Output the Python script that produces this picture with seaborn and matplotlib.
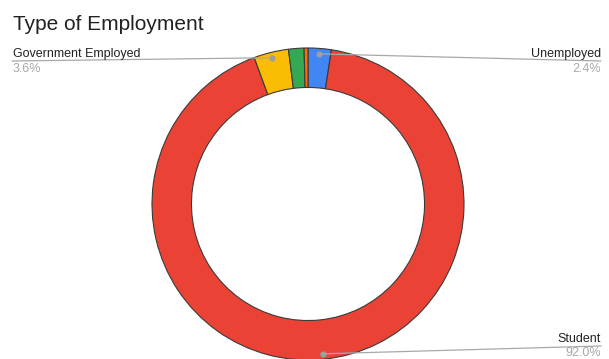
import numpy as np
import matplotlib
matplotlib.use("Agg")
import matplotlib.pyplot as plt
import seaborn as sns

sns.set_theme(style="white")
plt.rcParams['font.family'] = ['Liberation Sans', 'DejaVu Sans']

# Data
categories = ["Unemployed", "Student", "Government Employed", "Other", "Other 2"]
values = [2.4, 92.0, 3.6, 1.6, 0.4]
colors = ["#4285F4", "#EA4335", "#FBBC04", "#34A853", "#FF6D01"]
labeled = ["Unemployed", "Student", "Government Employed"]
pct_labels = {"Unemployed": "2.4%", "Student": "92.0%", "Government Employed": "3.6%"}

W, H = 609, 359
fig = plt.figure(figsize=(W / 100, H / 100), dpi=100)

def fx(x):
    return x / W

def fy(y):
    return 1 - y / H

cx, cy, R = 308, 204, 156
ax = fig.add_axes([fx(cx - R), fy(cy + R), 2 * R / W, 2 * R / H])
ax.pie(values, colors=colors, startangle=90, counterclock=False, radius=1,
       wedgeprops=dict(width=0.253, edgecolor="#3a3a3a", linewidth=0.8))
ax.set_xlim(-1, 1)
ax.set_ylim(-1, 1)
ax.axis("off")

fig.text(fx(13), fy(30), "Type of Employment", fontsize=15, color="#212121",
         ha="left", va="baseline")

# label positions: (side, line end x, line end y, name baseline y, pct baseline y)
label_pos = {
    "Government Employed": ("left", 12, 61, 57, 72.5),
    "Unemployed": ("right", 601, 61, 57, 72.5),
    "Student": ("right", 601, 346, 342.5, 355.5),
}

cum = np.cumsum([0] + values)
total = sum(values)
for i, cat in enumerate(categories):
    if cat not in labeled:
        continue
    mid = (cum[i] + cum[i + 1]) / 2 / total
    th = 2 * np.pi * mid
    r = 0.965
    px, py = r * np.sin(th), r * np.cos(th)
    side, lx, ly, ny, pyb = label_pos[cat]
    ax.annotate("", xy=(px, py), xycoords="data",
                xytext=(fx(lx), fy(ly)), textcoords="figure fraction",
                arrowprops=dict(arrowstyle="-", color="#a8a8a8", lw=0.9,
                                shrinkA=0, shrinkB=0), annotation_clip=False)
    ax.plot([px], [py], "o", color="#9e9e9e", markersize=3.5, clip_on=False)
    ha = "left" if side == "left" else "right"
    tx = 13 if side == "left" else 601
    fig.text(fx(tx), fy(ny), cat, fontsize=9, color="#222222", ha=ha, va="baseline")
    fig.text(fx(tx), fy(pyb), pct_labels[cat], fontsize=9, color="#a8a8a8",
             ha=ha, va="baseline")

fig.savefig("out.png", dpi=100)
